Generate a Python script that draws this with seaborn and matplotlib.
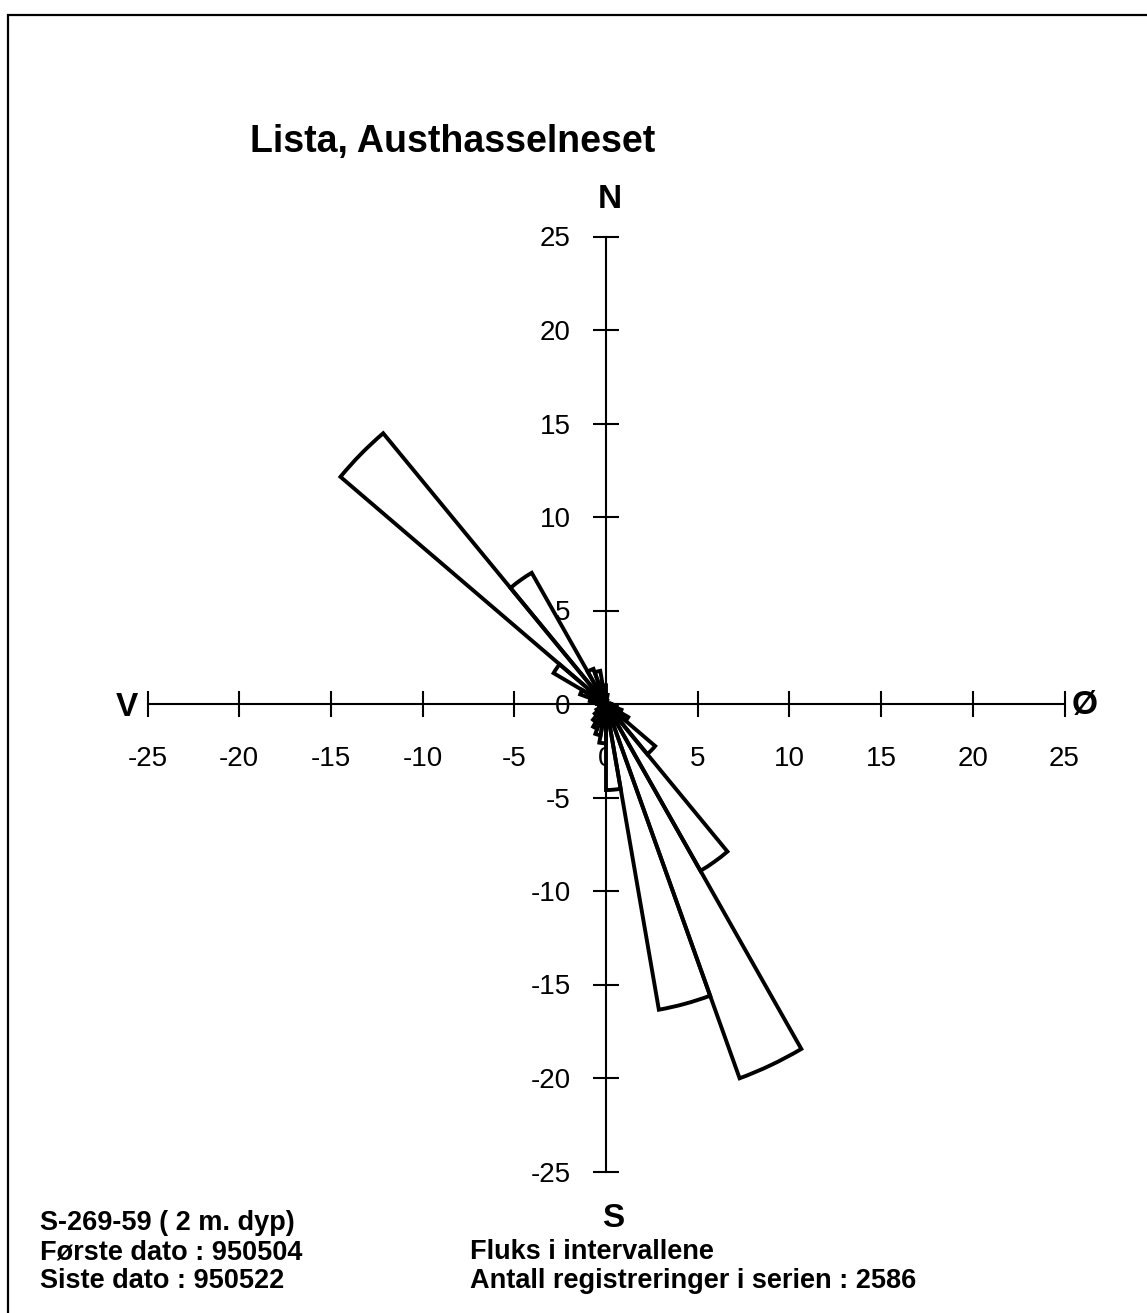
import matplotlib
matplotlib.use("Agg")
import matplotlib.pyplot as plt
from matplotlib.patches import Wedge, Rectangle
import seaborn as sns

# ── Data ──────────────────────────────────────────────────────────────────────
# flux per 10-degree sector, bearing measured clockwise from north (sector start)
sector_start = list(range(0, 360, 10))
flux = [0.5, 0.2, 0.1, 0.1, 0.1, 0.1, 0.1, 0.1, 0.2,
        0.3, 0.6, 0.9, 1.4, 3.5, 10.3, 21.3, 16.6, 4.6,
        2.1, 1.7, 1.4, 1.1, 0.8, 0.6, 0.4, 0.3, 0.3,
        0.5, 0.9, 1.5, 3.3, 18.9, 8.1, 2.0, 1.8, 1.0]
sector_width = 10

axis_ticks = [-25, -20, -15, -10, -5, 0, 5, 10, 15, 20, 25]
tick_labels = ["-25", "-20", "-15", "-10", "-5", "0", "5", "10", "15", "20", "25"]

title = "Lista, Austhasselneset"
info_left = ["S-269-59 ( 2 m. dyp)", "Første dato : 950504", "Siste dato : 950522"]
info_right = ["Fluks i intervallene", "Antall registreringer i serien : 2586"]

# ── Setup ─────────────────────────────────────────────────────────────────────
sns.set_theme(style="white")
plt.rcParams['font.family'] = ['Liberation Sans', 'DejaVu Sans']
plt.rcParams['text.color'] = 'black'

W, H = 1147, 1313
fig = plt.figure(figsize=(W / 100, H / 100), dpi=100)
ax = fig.add_axes([0, 0, 1, 1])
ax.set_facecolor('none')

# pixel mapping: origin at (606, 704), ~18.34 px/unit in x, ~18.7 px/unit in y
ox, oy, sx, sy = 606, 704, 18.34, 18.7
ax.set_xlim(-ox / sx, (W - ox) / sx)
ax.set_ylim((oy - H) / sy, oy / sy)

# ── Rose wedges ───────────────────────────────────────────────────────────────
for b, r in zip(sector_start, flux):
    t1, t2 = 90 - b - sector_width, 90 - b
    ax.add_patch(Wedge((0, 0), r, t1, t2, facecolor='white', edgecolor='none', zorder=3))
for b, r in zip(sector_start, flux):
    t1, t2 = 90 - b - sector_width, 90 - b
    ax.add_patch(Wedge((0, 0), r, t1, t2, fill=False, edgecolor='black',
                       linewidth=2.8, joinstyle='miter', zorder=4))

# ── Cross axes through origin ─────────────────────────────────────────────────
for side in ['top', 'right']:
    ax.spines[side].set_visible(False)
for side in ['left', 'bottom']:
    ax.spines[side].set_position(('data', 0))
    ax.spines[side].set_bounds(-25, 25)
    ax.spines[side].set_linewidth(1.5)
    ax.spines[side].set_color('black')
    ax.spines[side].set_zorder(2)

ax.set_xticks(axis_ticks)
ax.set_xticklabels(tick_labels)
ax.set_yticks(axis_ticks)
ax.set_yticklabels(tick_labels)
ax.tick_params(axis='x', bottom=True, direction='inout', length=19, width=1.5,
               pad=21, labelsize=20, color='black', labelcolor='black')
ax.tick_params(axis='y', left=True, direction='inout', length=19, width=1.5,
               pad=16, labelsize=20, color='black', labelcolor='black')
ax.grid(False)

# compass letters
ax.text(0.2, 27, "N", fontsize=24, fontweight='bold', ha='center', va='center')
ax.text(0.4, -27.5, "S", fontsize=24, fontweight='bold', ha='center', va='center')
ax.text(-26.1, -0.2, "V", fontsize=24, fontweight='bold', ha='center', va='center')
ax.text(26.1, -0.1, "Ø", fontsize=24, fontweight='bold', ha='center', va='center')

# ── Figure texts ──────────────────────────────────────────────────────────────
fig.text(250 / W, 1 - 152 / H, title, fontsize=27, fontweight='bold', va='baseline')
for i, line in enumerate(info_left):
    fig.text(40 / W, 1 - (1230 + 29 * i) / H, line, fontsize=19.5,
             fontweight='bold', va='baseline')
for i, line in enumerate(info_right):
    fig.text(470 / W, 1 - (1259 + 29 * i) / H, line, fontsize=19.5,
             fontweight='bold', va='baseline')

# page frame
fig.patches.append(Rectangle((8 / W, -0.02), 1.1, 1 - 15 / H + 0.02,
                             transform=fig.transFigure, fill=False,
                             edgecolor='black', linewidth=1.6))

fig.savefig('out.png', dpi=100, facecolor='white')
plt.close(fig)
